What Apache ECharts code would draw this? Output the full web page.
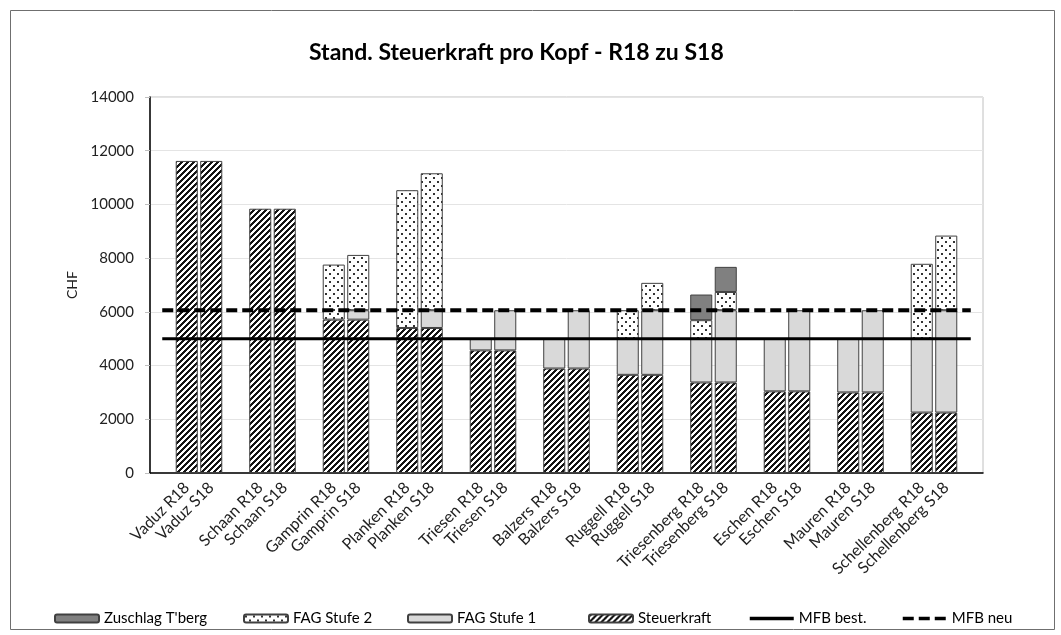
<!DOCTYPE html>
<html>
<head>
<meta charset="utf-8">
<script src="https://cdn.jsdelivr.net/npm/echarts@6/dist/echarts.min.js"></script>
<style>
  html, body { margin: 0; padding: 0; background: #fff; }
  #chart { width: 1061px; height: 635px; }
</style>
</head>
<body>
<div id="chart"></div>
<script>
// Gemeinden, je R18 und S18
const gemeinden = ['Vaduz', 'Schaan', 'Gamprin', 'Planken', 'Triesen', 'Balzers', 'Ruggell', 'Triesenberg', 'Eschen', 'Mauren', 'Schellenberg'];
const steuerkraft = [11620, 9840, 5710, 5400, 4565, 3890, 3655, 3370, 3040, 3000, 2250];
const stufe1R = [0, 0, 0, 0, 435, 1110, 1345, 1630, 1960, 2000, 2750];
const stufe1S = [0, 0, 350, 660, 1495, 2170, 2405, 2690, 3020, 3060, 3810];
const stufe2R = [0, 0, 2050, 5130, 0, 0, 1060, 690, 0, 0, 2790];
const stufe2S = [0, 0, 2060, 5100, 0, 0, 1020, 680, 0, 0, 2780];
const zuschlagR = [0, 0, 0, 0, 0, 0, 0, 955, 0, 0, 0];
const zuschlagS = [0, 0, 0, 0, 0, 0, 0, 935, 0, 0, 0];
const mfbBest = 5000;
const mfbNeu = 6060;
const yTicks = { min: 0, max: 14000, interval: 2000 };

// Kategorien: Leerfeld, R18, S18 ... Leerfeld
const categories = [];
gemeinden.forEach((g, i) => {
  categories.push(' '.repeat(i + 1), g + ' R18', g + ' S18');
});
categories.push(' '.repeat(gemeinden.length + 1));

function pairs(r, s) {
  const out = [];
  gemeinden.forEach((g, i) => {
    out.push('-', r[i] || '-', s[i] || '-');
  });
  out.push('-');
  return out;
}

// Muster wie in Excel
function stripes() {
  const c = document.createElement('canvas');
  c.width = 6; c.height = 6;
  const ctx = c.getContext('2d');
  const img = ctx.createImageData(6, 6);
  for (let y = 0; y < 6; y++) {
    for (let x = 0; x < 6; x++) {
      const dark = (x + y) % 6 < 3;
      const k = (y * 6 + x) * 4;
      const v = dark ? 20 : 255;
      img.data[k] = v; img.data[k + 1] = v; img.data[k + 2] = v; img.data[k + 3] = 255;
    }
  }
  ctx.putImageData(img, 0, 0);
  return c;
}
function dots() {
  const c = document.createElement('canvas');
  c.width = 8; c.height = 8;
  const ctx = c.getContext('2d');
  ctx.fillStyle = '#fff';
  ctx.fillRect(0, 0, 8, 8);
  ctx.fillStyle = '#333';
  ctx.fillRect(1, 1, 2, 2);
  ctx.fillRect(5, 5, 2, 2);
  return c;
}

const font = 'Lato, "Open Sans", sans-serif';
const chart = echarts.init(document.getElementById('chart'));

const legendNames = [["Zuschlag T'berg", 54], ['FAG Stufe 2', 243], ['FAG Stufe 1', 407], ['Steuerkraft', 588], ['MFB best.', 748], ['MFB neu', 901]];

function legendFor(name, x) {
  const lg = {
    data: [name],
    left: x,
    top: 611,
    padding: 0,
    itemWidth: 44,
    itemHeight: 8,
    textStyle: { fontFamily: font, fontSize: 15, color: '#000' }
  };
  if (name.indexOf('MFB') === 0) {
    lg.itemStyle = { opacity: 0 };
    lg.lineStyle = { width: 3.5 };
  }
  return lg;
}

function bar(name, data, color) {
  return {
    name: name,
    type: 'bar',
    stack: 'total',
    barCategoryGap: '10%',
    data: data,
    itemStyle: { color: color, borderColor: '#404040', borderWidth: 1 },
    emphasis: { disabled: true }
  };
}

const option = {
  animation: false,
  textStyle: { fontFamily: font },
  title: {
    text: 'Stand. Steuerkraft pro Kopf - R18 zu S18',
    left: 304,
    top: 36,
    textStyle: { fontFamily: font, fontSize: 23, fontWeight: 'bold', color: '#000' }
  },
  legend: legendNames.map(([n, x]) => legendFor(n, x)),
  graphic: [{
    type: 'rect',
    left: 8, top: 8,
    shape: { width: 1044, height: 619 },
    style: { fill: 'none', stroke: '#6f6f6f', lineWidth: 1 },
    silent: true
  }],
  grid: {
    left: 150, right: 78, top: 97, bottom: 162,
    show: true, borderColor: '#c0c0c0', borderWidth: 1
  },
  xAxis: {
    type: 'category',
    data: categories,
    axisLine: { lineStyle: { color: '#000', width: 1.5 } },
    axisTick: { show: false },
    axisLabel: { interval: 0, rotate: 45, margin: 12, fontSize: 16, color: '#222', fontFamily: font }
  },
  yAxis: {
    type: 'value',
    min: yTicks.min, max: yTicks.max, interval: yTicks.interval,
    name: 'CHF',
    nameLocation: 'middle',
    nameGap: 55,
    nameTextStyle: { fontSize: 14, color: '#222', fontFamily: font },
    axisLine: { show: true, lineStyle: { color: '#000', width: 1.5 } },
    axisTick: { show: true, length: 5, lineStyle: { color: '#c0c0c0' } },
    axisLabel: { fontSize: 15, color: '#222', margin: 16, fontFamily: font, formatter: v => String(v) },
    splitLine: { lineStyle: { color: '#e4e4e4' } }
  },
  series: [
    bar('Steuerkraft', pairs(steuerkraft, steuerkraft), { image: stripes(), repeat: 'repeat' }),
    bar('FAG Stufe 1', pairs(stufe1R, stufe1S), '#d9d9d9'),
    bar('FAG Stufe 2', pairs(stufe2R, stufe2S), { image: dots(), repeat: 'repeat' }),
    bar("Zuschlag T'berg", pairs(zuschlagR, zuschlagS), '#808080'),
    {
      name: 'MFB best.',
      type: 'line',
      data: categories.map(() => mfbBest),
      symbol: 'none',
      lineStyle: { color: '#000', width: 3, type: 'solid' },
      itemStyle: { color: '#000' },
      z: 5
    },
    {
      name: 'MFB neu',
      type: 'line',
      data: categories.map(() => mfbNeu),
      symbol: 'none',
      lineStyle: { color: '#000', width: 4, type: [11, 5] },
      itemStyle: { color: '#000' },
      z: 5
    }
  ]
};
chart.setOption(option);
</script>
</body>
</html>
